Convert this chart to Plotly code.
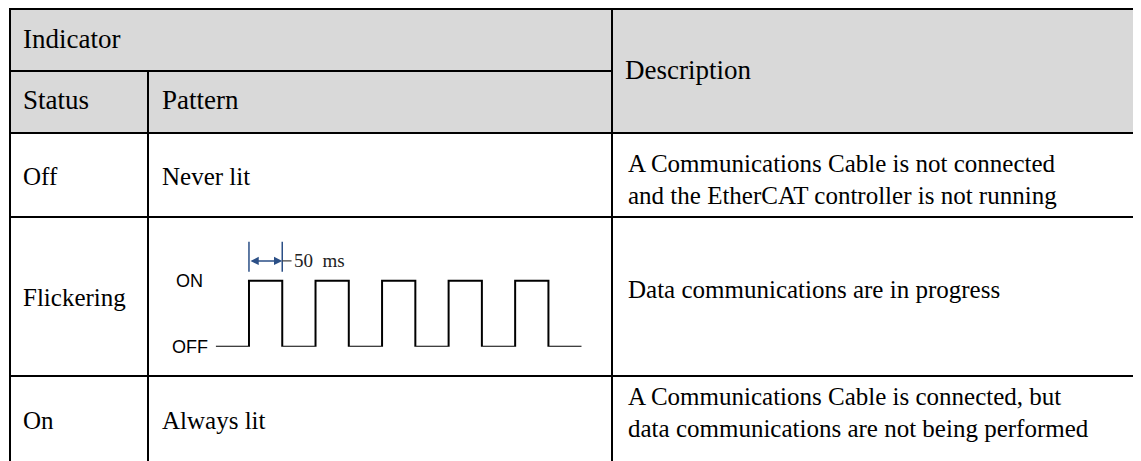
import plotly.graph_objects as go

# ---------------- data ----------------
header_top = "Indicator"
header_sub = ["Status", "Pattern"]
header_desc = "Description"
statuses = ["Off", "Flickering", "On"]
patterns = ["Never lit", "", "Always lit"]
descriptions = [
    ["A Communications Cable is not connected", "and the EtherCAT controller is not running"],
    ["Data communications are in progress"],
    ["A Communications Cable is connected, but", "data communications are not being performed"],
]
# flicker waveform (time in ms, state 0=OFF 1=ON)
wave_t_ms = [-50, 0, 50, 100, 150, 200, 250, 300, 350, 400, 450, 500]
wave_state = [0, 1, 0, 1, 0, 1, 0, 1, 0, 1, 0, 0]
level_labels = ["OFF", "ON"]
pulse_ms = 50
pulse_label = "50\u00a0 ms"

# ---------------- layout constants ----------------
PAGE_W, PAGE_H = 1141, 461
OFF = 8                      # default page body margin
W, H = PAGE_W - OFF, PAGE_H - OFF
col_x = [10, 148, 612, PAGE_W + 2]
row_y = [9, 71, 133, 217, 376, PAGE_H + 5]
LINE = dict(color="black", width=2)
SERIF = "Liberation Serif"
SANS = "Liberation Sans"
FS = 25
HFS = 27

fig = go.Figure()

fig.add_trace(go.Scatter(
    x=wave_t_ms, y=wave_state, mode="lines", line=dict(color="black", width=2, shape="hv"),
    xaxis="x2", yaxis="y2", hoverinfo="skip", showlegend=False))

shapes = []
shapes.append(dict(type="rect", xref="x", yref="y", x0=col_x[0], x1=col_x[3], y0=row_y[0], y1=row_y[2],
                   fillcolor="#d9d9d9", line=dict(width=0), layer="below"))
shapes.append(dict(type="line", xref="x", yref="y", x0=col_x[0] - 1, x1=col_x[3], y0=row_y[0], y1=row_y[0], line=LINE))
shapes.append(dict(type="line", xref="x", yref="y", x0=col_x[0], x1=col_x[2], y0=row_y[1], y1=row_y[1], line=LINE))
for yy in row_y[2:5]:
    shapes.append(dict(type="line", xref="x", yref="y", x0=col_x[0], x1=col_x[3], y0=yy, y1=yy, line=LINE))
shapes.append(dict(type="line", xref="x", yref="y", x0=col_x[0], x1=col_x[0], y0=row_y[0], y1=row_y[5], line=LINE))
shapes.append(dict(type="line", xref="x", yref="y", x0=col_x[1], x1=col_x[1], y0=row_y[1], y1=row_y[5], line=LINE))
shapes.append(dict(type="line", xref="x", yref="y", x0=col_x[2], x1=col_x[2], y0=row_y[0], y1=row_y[5], line=LINE))

DIM = "#2b4f86"
dim_y = 1.30
for t in (0, pulse_ms):
    shapes.append(dict(type="line", xref="x2", yref="y2", x0=t, x1=t, y0=1.135, y1=1.59,
                       line=dict(color=DIM, width=1.5)))
shapes.append(dict(type="line", xref="x2", yref="y2", x0=pulse_ms, x1=pulse_ms + 14, y0=dim_y, y1=dim_y,
                   line=dict(color="#444", width=1.2)))

ann = []
def txt(x, y, s, size=FS, font=SERIF, xanchor="left", xref="x", yref="y", color="black", xshift=0):
    ann.append(dict(x=x, y=y, xref=xref, yref=yref, text=s, showarrow=False, xanchor=xanchor,
                    yanchor="middle", align="left", xshift=xshift,
                    font=dict(family=font, size=size, color=color)))

txt(col_x[0] + 11, 39, header_top, size=HFS)
txt(col_x[0] + 11, 100, header_sub[0], size=HFS)
txt(col_x[1] + 12, 100, header_sub[1], size=HFS)
txt(col_x[2] + 11, 70, header_desc, size=HFS)

stat_y = [176, 297, 420]
desc_top = [163, 289, 396]
LINE_GAP = 32
for i in range(3):
    txt(col_x[0] + 11, stat_y[i], statuses[i])
    if patterns[i]:
        txt(col_x[1] + 12, stat_y[i], patterns[i])
    for j, line in enumerate(descriptions[i]):
        txt(col_x[2] + 14, desc_top[i] + j * LINE_GAP, line)

txt(wave_t_ms[0], 0, level_labels[0], size=18, font=SANS, xanchor="right", xref="x2", yref="y2", xshift=-6)
txt(wave_t_ms[0], 1, level_labels[1], size=18, font=SANS, xanchor="right", xref="x2", yref="y2", xshift=-11)
ann.append(dict(x=pulse_ms, y=dim_y, ax=0, ay=dim_y, xref="x2", yref="y2", axref="x2", ayref="y2",
                text="", showarrow=True, arrowside="end+start", arrowhead=2, arrowsize=1.1,
                arrowwidth=1.5, arrowcolor=DIM, standoff=0, startstandoff=0))
txt(pulse_ms + 14, dim_y, pulse_label, size=19, color="#222", xref="x2", yref="y2")

# waveform axes placement (page pixels)
wx0, wx1 = 215.7, 581.7
y_off, y_on = 346.7, 280.7
y2_top_val = 1.75
py_top = y_off - (y_off - y_on) * y2_top_val

fig.update_layout(
    width=W, height=H, margin=dict(l=0, r=0, t=0, b=0),
    paper_bgcolor="white", plot_bgcolor="rgba(0,0,0,0)",
    showlegend=False,
    xaxis=dict(range=[OFF, PAGE_W], visible=False, domain=[0, 1]),
    yaxis=dict(range=[PAGE_H, OFF], visible=False, domain=[0, 1]),
    xaxis2=dict(range=[wave_t_ms[0], wave_t_ms[-1]], domain=[(wx0 - OFF) / W, (wx1 - OFF) / W],
                anchor="y2", visible=False),
    yaxis2=dict(range=[0, y2_top_val], domain=[(PAGE_H - y_off) / H, (PAGE_H - py_top) / H],
                anchor="x2", visible=False),
    shapes=shapes, annotations=ann,
)
fig.write_html("out.html")
